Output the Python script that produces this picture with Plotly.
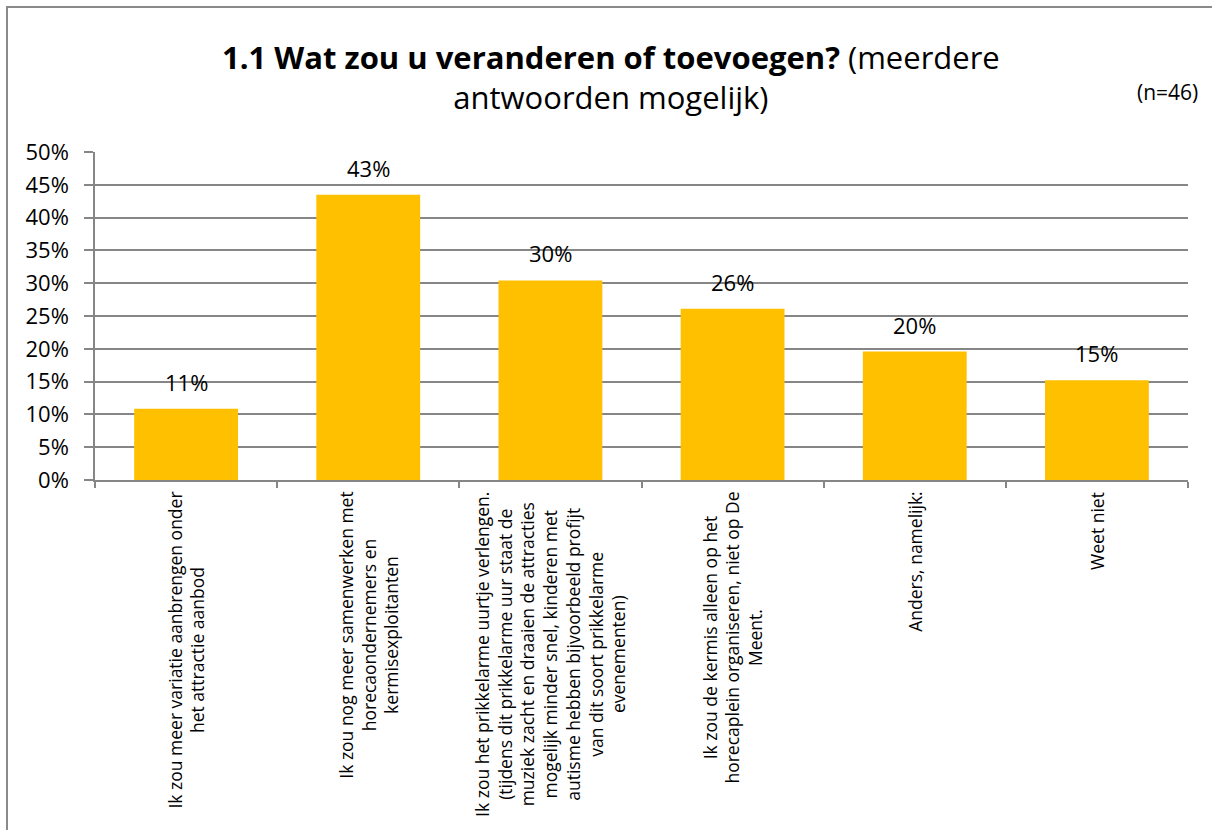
import plotly.graph_objects as go

categories = [
    "Ik zou meer variatie aanbrengen onder<br>het attractie aanbod",
    "Ik zou nog meer samenwerken met<br>horecaondernemers en<br>kermisexploitanten",
    "Ik zou het prikkelarme uurtje verlengen.<br>(tijdens dit prikkelarme uur staat de<br>muziek zacht en draaien de attracties<br>mogelijk minder snel, kinderen met<br>autisme hebben bijvoorbeeld profijt<br>van dit soort prikkelarme<br>evenementen)",
    "Ik zou de kermis alleen op het<br>horecaplein organiseren, niet op De<br>Meent.",
    "Anders, namelijk:",
    "Weet niet",
]
values = [10.87, 43.48, 30.43, 26.09, 19.57, 15.22]
value_labels = ["11%", "43%", "30%", "26%", "20%", "15%"]
ytick_vals = [0, 5, 10, 15, 20, 25, 30, 35, 40, 45, 50]
ytick_text = ["0%", "5%", "10%", "15%", "20%", "25%", "30%", "35%", "40%", "45%", "50%"]

FONT = "Open Sans"
W, H = 1212, 830
L, R, T, B = 95, 24, 152, 350
pw, ph = W - L - R, H - T - B

xs = list(range(len(categories)))

fig = go.Figure()
fig.add_trace(go.Bar(x=xs, y=values, marker=dict(color="#FFC000", line=dict(width=0)),
                     width=0.57, hoverinfo="skip"))

annotations = []
for x, v, t in zip(xs, values, value_labels):
    annotations.append(dict(x=x, y=v, xref="x", yref="y", text=t, showarrow=False,
                            yanchor="bottom", yshift=10,
                            font=dict(family=FONT, size=22, color="#000")))
for x, c in zip(xs, categories):
    annotations.append(dict(x=x, y=0, xref="x", yref="paper", text=c, showarrow=False,
                            textangle=-90, yanchor="top", xanchor="center", align="center",
                            yshift=-10, font=dict(family=FONT, size=17.5, color="#000")))

annotations.append(dict(
    x=(611 - L) / pw, y=(H - B - 77) / ph, xref="paper", yref="paper",
    text="<b>1.1 Wat zou u veranderen of toevoegen?</b> (meerdere<br>antwoorden mogelijk)",
    showarrow=False, xanchor="center", yanchor="middle", align="center",
    font=dict(family=FONT, size=31, color="#000")))
annotations.append(dict(
    x=(1167 - L) / pw, y=(H - B - 92) / ph, xref="paper", yref="paper",
    text="(n=46)", showarrow=False, xanchor="center", yanchor="middle",
    font=dict(family=FONT, size=21, color="#000")))

shapes = [dict(type="path", xref="paper", yref="paper",
               path=f"M {(7 - L) / pw} {(H - B - 840) / ph} L {(7 - L) / pw} {(H - B - 7) / ph} L {(1220 - L) / pw} {(H - B - 7) / ph}",
               line=dict(color="#8a8a8a", width=2))]

fig.update_layout(
    width=W, height=H,
    margin=dict(l=L, r=R, t=T, b=B, pad=0),
    paper_bgcolor="white", plot_bgcolor="white",
    showlegend=False,
    annotations=annotations,
    shapes=shapes,
    xaxis=dict(range=[-0.5, len(categories) - 0.5], tickmode="array",
               tickvals=[i - 0.5 for i in range(len(categories) + 1)],
               showticklabels=False, ticks="outside", ticklen=6, tickcolor="#868686",
               tickwidth=1.5, showline=True, linecolor="#868686", linewidth=1.5,
               showgrid=False, zeroline=False, fixedrange=True),
    yaxis=dict(range=[0, 50], tickmode="array", tickvals=ytick_vals, ticktext=ytick_text,
               ticks="outside", ticklen=9, tickcolor="#868686", tickwidth=1.5,
               showline=True, linecolor="#868686", linewidth=1.5,
               showgrid=True, gridcolor="#868686", gridwidth=1.5, zeroline=False,
               tickfont=dict(family=FONT, size=22, color="#000"), ticklabelstandoff=11,
               fixedrange=True),
)

fig.write_html("out.html", config={"displayModeBar": False})
